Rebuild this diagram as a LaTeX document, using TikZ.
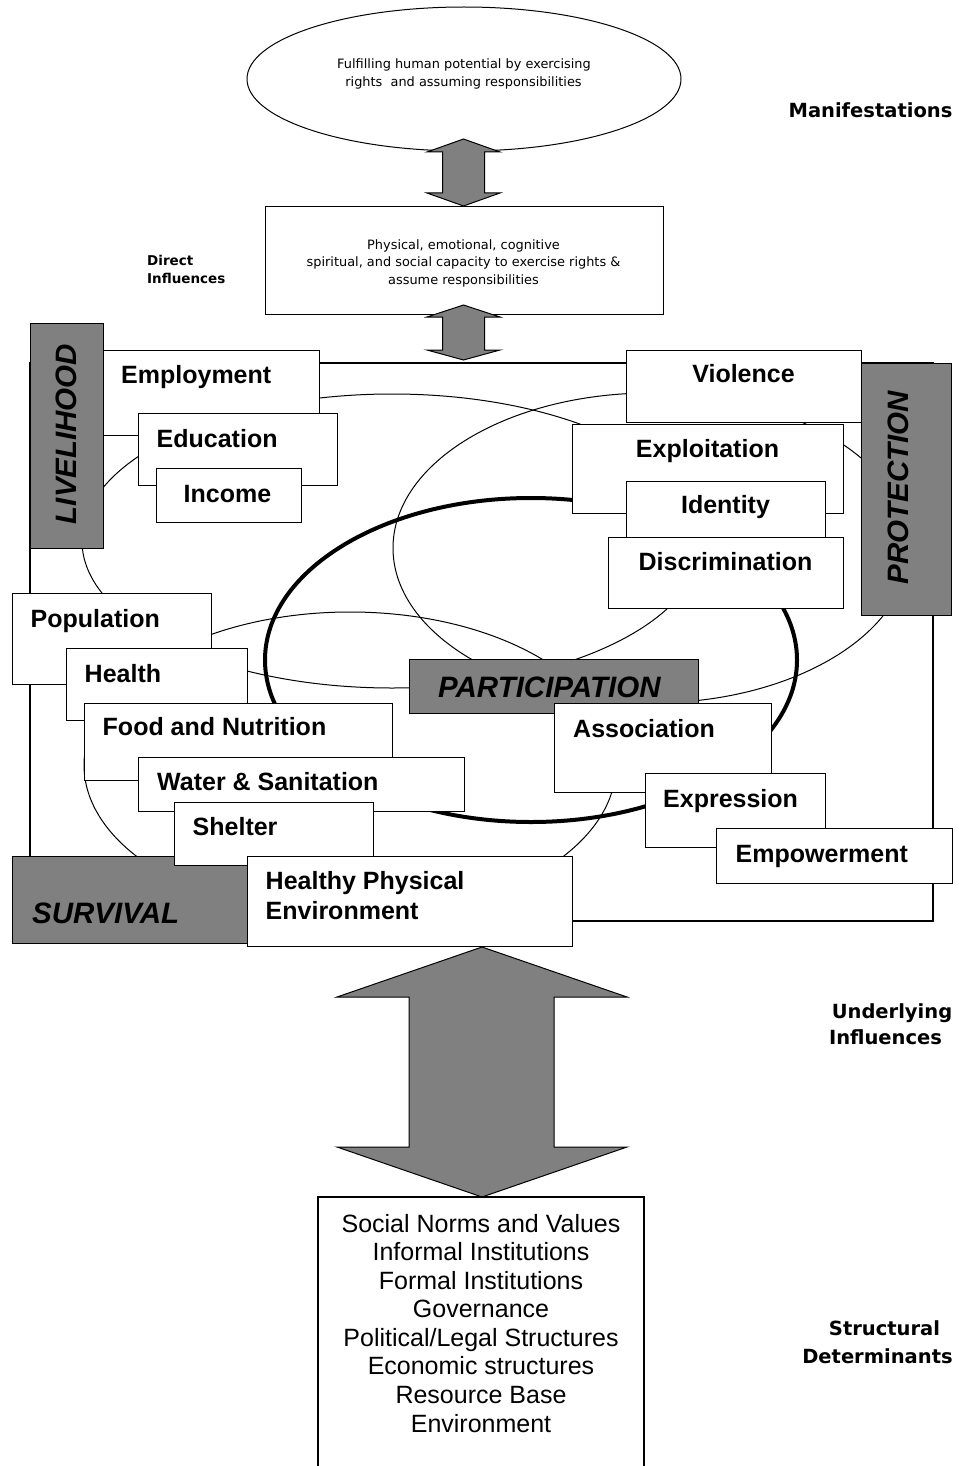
\documentclass[tikz,border=0pt]{standalone}
\usepackage{fontspec}
\setmainfont{Liberation Sans}
\newfontfamily\dvs{DejaVu Sans}
\usetikzlibrary{shapes.geometric}
\definecolor{boxgray}{RGB}{128,128,128}
\tikzset{
  box/.style={draw=black, fill=white, line width=1.2pt, inner sep=0pt, anchor=north west},
  catbox/.style={draw=black, fill=boxgray, line width=1.2pt, inner sep=0pt, anchor=north west},
  lab/.style={font={\bfseries\fontsize{25}{30}\selectfont}, inner sep=0pt},
  cat/.style={font={\bfseries\itshape\fontsize{29.5}{34}\selectfont}, inner sep=0pt},
  small/.style={font={\dvs\fontsize{12.9}{15}\selectfont}, inner sep=0pt, anchor=base},
  side/.style={font={\dvs\bfseries\fontsize{19.5}{24}\selectfont}, inner sep=0pt, anchor=base},
  sidesmall/.style={font={\dvs\bfseries\fontsize{13.5}{16}\selectfont}, inner sep=0pt, anchor=base west},
  struct/.style={font={\fontsize{25}{29}\selectfont}, inner sep=0pt, anchor=base},
  ring/.style={draw=black, line width=1pt},
  bigring/.style={draw=black, line width=4pt},
  framing/.style={draw=black, line width=1.2pt},
  dblarrow/.style={draw=black, fill=boxgray, line width=1pt, line join=miter},
}
\begin{document}
\begin{tikzpicture}[x=1pt, y=-1pt]
\useasboundingbox (0,0) rectangle (963,1466);

% frame and rings
\draw[framing] (30,363) rectangle (933,921);
\draw[ring] (392,541) ellipse [x radius=310, y radius=147];
\draw[ring] (651,548) ellipse [x radius=258, y radius=155];
\draw[ring] (350,765) ellipse [x radius=266, y radius=153];
\draw[bigring] (531,660) ellipse [x radius=266, y radius=162];

% top
\node[draw=black, line width=1pt, ellipse, minimum width=434, minimum height=144, inner sep=0pt] (goal) at (464,79) {};
\node[small] (goal1) at (464,69) {Fulfilling human potential by exercising};
\node[small] (goal2) at (463.5,87) {rights\ \ and assuming responsibilities};
\node[box, minimum width=398, minimum height=108] (midbox) at (265,206) {};
\node[small] (mid1) at (463.5,249) {Physical, emotional, cognitive};
\node[small] (mid2) at (463.5,266.7) {spiritual, and social capacity to exercise rights \&};
\node[small] (mid3) at (463.5,284.4) {assume responsibilities};
\draw[dblarrow] (463.5,139) -- (500,152) -- (484.5,152) -- (484.5,193) -- (500,193) -- (463.5,206)
   -- (427,193) -- (442.5,193) -- (442.5,152) -- (427,152) -- cycle;
\draw[dblarrow] (463.5,305) -- (500,317) -- (484.5,317) -- (484.5,350) -- (500,350) -- (463.5,360)
   -- (427,350) -- (442.5,350) -- (442.5,317) -- (427,317) -- cycle;

% side labels
\node[side] (manif) at (870.5,117.3) {Manifestations};
\node[sidesmall] (direct1) at (147,265) {Direct};
\node[sidesmall] (direct2) at (147,283) {Influences};
\node[side] (under1) at (892,1018) {Underlying};
\node[side] (under2) at (885.5,1044) {Influences};
\node[side] (struct1) at (884.5,1335) {Structural};
\node[side] (struct2) at (877.5,1363) {Determinants};

% livelihood group
\node[catbox, minimum width=73, minimum height=225] (livbox) at (30,323) {};
\node[cat, rotate=90] (livelihood) at (66.5,434) {LIVELIHOOD};
\node[box, minimum width=216, minimum height=85] (empbox) at (103,350) {};
\node[lab, anchor=base west] (employment) at (121,383.5) {Employment};
\node[box, minimum width=199, minimum height=72] (edubox) at (138,413) {};
\node[lab, anchor=base west] (education) at (156.5,447) {Education};
\node[box, minimum width=145, minimum height=54] (incbox) at (156,468) {};
\node[lab, anchor=base west] (income) at (183.5,502) {Income};

% protection group
\node[catbox, minimum width=90, minimum height=252] (protbox) at (861,363) {};
\node[cat, rotate=90] (protection) at (898.5,487.5) {PROTECTION};
\node[box, minimum width=235, minimum height=72] (viobox) at (626,350) {};
\node[lab, anchor=base] (violence) at (743.5,382) {Violence};
\node[box, minimum width=271, minimum height=89] (explbox) at (572,424) {};
\node[lab, anchor=base] (exploitation) at (707.5,457) {Exploitation};
\node[box, minimum width=199, minimum height=56] (idbox) at (626,481) {};
\node[lab, anchor=base] (identity) at (725.5,513) {Identity};
\node[box, minimum width=235, minimum height=71] (disbox) at (608,537) {};
\node[lab, anchor=base] (discrimination) at (725.5,570) {Discrimination};

% participation group
\node[catbox, minimum width=289, minimum height=54] (partbox) at (409,659) {};
\node[cat, anchor=base west] (participation) at (438,697.5) {PARTICIPATION};
\node[box, minimum width=217, minimum height=89] (assocbox) at (554,703) {};
\node[lab, anchor=base west] (association) at (573,737) {Association};
\node[box, minimum width=180, minimum height=74] (exprbox) at (645,773) {};
\node[lab, anchor=base west] (expression) at (663,807) {Expression};
\node[box, minimum width=236, minimum height=55] (empwbox) at (716,828) {};
\node[lab, anchor=base west] (empowerment) at (735.5,862) {Empowerment};

% survival group
\node[box, minimum width=199, minimum height=91] (popbox) at (12,593) {};
\node[lab, anchor=base west] (population) at (30.5,627) {Population};
\node[box, minimum width=181, minimum height=72] (healthbox) at (66,648) {};
\node[lab, anchor=base west] (health) at (84.5,682) {Health};
\node[box, minimum width=308, minimum height=77] (foodbox) at (84,703) {};
\node[lab, anchor=base west] (food) at (102.5,735.5) {Food and Nutrition};
\node[box, minimum width=326, minimum height=54] (waterbox) at (138,757) {};
\node[lab, anchor=base west] (water) at (157,790) {Water \& Sanitation};
\node[catbox, minimum width=235, minimum height=87] (survbox) at (12,856) {};
\node[cat, anchor=base west] (survival) at (32,923) {SURVIVAL};
\node[box, minimum width=199, minimum height=63] (shelterbox) at (174,802) {};
\node[lab, anchor=base west] (shelter) at (192.5,835) {Shelter};
\node[box, minimum width=325, minimum height=90] (hpebox) at (247,856) {};
\node[lab, anchor=base west] (hpe1) at (265.5,889) {Healthy Physical};
\node[lab, anchor=base west] (hpe2) at (265.5,919) {Environment};

% structural determinants
\draw[dblarrow] (482,947) -- (627,997) -- (554,997) -- (554,1147) -- (627,1147) -- (482,1197)
   -- (337,1147) -- (409,1147) -- (409,997) -- (337,997) -- cycle;
\draw[line width=1.2pt] (318,1470) -- (318,1197) -- (644,1197) -- (644,1470);
\node[struct] (s1) at (481,1232) {Social Norms and Values};
\node[struct] (s2) at (481,1260.6) {Informal Institutions};
\node[struct] (s3) at (481,1289.1) {Formal Institutions};
\node[struct] (s4) at (481,1317.7) {Governance};
\node[struct] (s5) at (481,1346.3) {Political/Legal Structures};
\node[struct] (s6) at (481,1374.9) {Economic structures};
\node[struct] (s7) at (481,1403.4) {Resource Base};
\node[struct] (s8) at (481,1432) {Environment};
\end{tikzpicture}
\end{document}
